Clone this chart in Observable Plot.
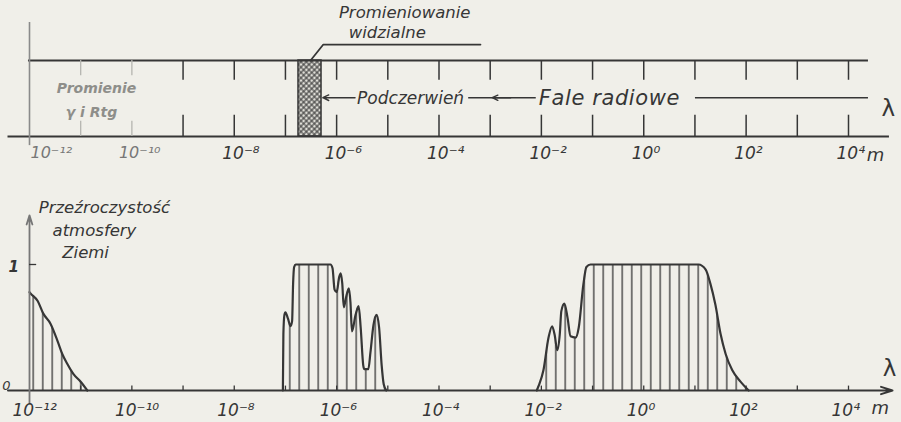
<!DOCTYPE html>
<html><head><meta charset="utf-8">
<script src="https://cdn.jsdelivr.net/npm/d3@7"></script>
<script src="https://cdn.jsdelivr.net/npm/@observablehq/plot@0.6"></script>
<style>
html,body{margin:0;padding:0;background:#f0efe9;}
#chart{width:901px;height:422px;overflow:hidden;}
svg{display:block;}
</style></head><body><div id="chart"></div>
<script>
// ---------- data (wavelengths as log10 of metres) ----------
const decadeTicks = [-11,-10,-9,-8,-7,-6,-5,-4,-3,-2,-1,0,1,2,3,4];
const tickExp    = [-12,-10,-8,-6,-4,-2,0,2,4];
const tickLabels = ["10⁻¹²","10⁻¹⁰","10⁻⁸","10⁻⁶","10⁻⁴","10⁻²","10⁰","10²","10⁴"];
const visibleBand = [-6.745, -6.295];           // "Promieniowanie widzialne"
const bandNames = ["Promieniowanie","widzialne","Podczerwień","Fale radiowe"];
const gammaNames = ["Promienie","γ i Rtg"];
const yTitle = ["Przeźroczystość","atmosfery","Ziemi"];

// atmospheric transparency windows
const gammaK = [-12, -11.98, -11.84, -11.73, -11.59, -11.45, -11.36, -11.26, -11.14, -11.0, -10.87];
const gammaT = [0.78, 0.77, 0.71, 0.61, 0.53, 0.39, 0.29, 0.21, 0.13, 0.07, 0];
const opticalK = [-7.05,-7.04,-7.02,-7.0,-6.95,-6.9,-6.87,-6.85,-6.83,-6.8,-6.12,-6.08,-6.04,-6.0,-5.95,-5.92,-5.89,-5.86,-5.81,-5.76,-5.73,-5.70,-5.63,-5.57,-5.53,-5.48,-5.46,-5.38,-5.34,-5.28,-5.22,-5.17,-5.12,-5.08,-5.03];
const opticalT = [0,0.45,0.6,0.62,0.57,0.51,0.55,0.85,0.98,1.0,1.0,0.97,0.8,0.78,0.9,0.93,0.85,0.66,0.75,0.81,0.7,0.47,0.6,0.67,0.5,0.2,0.17,0.17,0.3,0.52,0.6,0.5,0.2,0.05,0];
const radioK = [-2.09,-2.05,-1.96,-1.86,-1.79,-1.74,-1.69,-1.64,-1.61,-1.55,-1.49,-1.43,-1.33,-1.27,-1.18,-1.12,-1.04,1.07,1.21,1.30,1.40,1.50,1.60,1.73,1.89,2.05];
const radioT = [0,0.04,0.16,0.42,0.51,0.44,0.32,0.45,0.63,0.69,0.58,0.43,0.42,0.5,0.84,0.98,1.0,1.0,0.96,0.85,0.68,0.45,0.29,0.16,0.07,0];

// ---------- helpers ----------
const p = k => 10 ** k;
const ink = "#363636";
const FONT = "DejaVu Sans";
const X = {type: "log", domain: [1e-12, 1e4], range: [29, 848], axis: null};
const T = (txt, o) => Plot.text([txt], {text: d => d, fontFamily: FONT, fontStyle: "italic", fill: ink, ...o});

const windows = [
  ...gammaK.map((k, i) => ({w: "gamma", k, t: gammaT[i]})),
  ...opticalK.map((k, i) => ({w: "optical", k, t: opticalT[i]})),
  ...radioK.map((k, i) => ({w: "radio", k, t: radioT[i]}))
];

// ---------- top: spectrum ----------
const topPlot = Plot.plot({
  width: 901, height: 170, margin: 0,
  x: X,
  y: {domain: [0, 1], range: [136, 60], axis: null},
  style: {background: "transparent", overflow: "visible", fontFamily: FONT},
  marks: [
    Plot.rect([visibleBand], {x1: d => p(d[0]), x2: d => p(d[1]), y1: 0, y2: 1, fill: "url(#xhatch)", stroke: ink, strokeWidth: 1.5}),
    Plot.ruleY([1], {x1: p(-12.02), x2: p(4.39), stroke: ink, strokeWidth: 2}),
    Plot.ruleY([0], {x1: p(-12.42), x2: p(4.8), stroke: ink, strokeWidth: 2}),
    Plot.ruleX([p(-12)], {y1: -0.12, y2: 1.5, stroke: "#8a8a8a", strokeWidth: 1.6}),
    Plot.ruleX(decadeTicks, {filter: d => d >= -9, x: p, y1: 1, y2: 0.74, stroke: ink, strokeWidth: 1.5}),
    Plot.ruleX(decadeTicks, {filter: d => d >= -9, x: p, y1: 0, y2: 0.28, stroke: ink, strokeWidth: 1.5}),
    Plot.ruleX(decadeTicks, {filter: d => d < -9, x: p, y1: 1, y2: 0.8, stroke: "#b5b5b0", strokeWidth: 1.3}),
    Plot.ruleX(decadeTicks, {filter: d => d < -9, x: p, y1: 0, y2: 0.2, stroke: "#b5b5b0", strokeWidth: 1.3}),
    // leader line to "Promieniowanie widzialne"
    Plot.line([[-6.51, 1], [-6.26, 1.21], [-3.19, 1.21]], {x: d => p(d[0]), y: d => d[1], stroke: ink, strokeWidth: 1.8}),
    T(bandNames[0], {x: p(-4.67), y: 1.63, fontSize: 16.5}),
    T(bandNames[1], {x: p(-5.01), y: 1.36, fontSize: 16.5}),
    // Podczerwień
    Plot.arrow([0], {x1: p(-5.64), y1: 0.51, x2: p(-6.27), y2: 0.51, stroke: ink, strokeWidth: 1.4, headLength: 7, headAngle: 50}),
    T(bandNames[2], {x: p(-5.6), y: 0.5, fontSize: 17, textAnchor: "start"}),
    // Fale radiowe
    Plot.ruleY([0.51], {x1: p(-3.42), x2: p(-2.1), stroke: ink, strokeWidth: 1.4}),
    Plot.arrow([0], {x1: p(-2.6), y1: 0.51, x2: p(-2.96), y2: 0.51, stroke: ink, strokeWidth: 1.4, headLength: 7, headAngle: 50}),
    T(bandNames[3], {x: p(-2.05), y: 0.5, fontSize: 21, textAnchor: "start"}),
    Plot.ruleY([0.51], {x1: p(1.01), x2: p(4.39), stroke: ink, strokeWidth: 1.4}),
    // gamma / X
    T(gammaNames[0], {x: p(-10.69), y: 0.63, fontSize: 14, fontWeight: "bold", fill: "#8e8e8a"}),
    T(gammaNames[1], {x: p(-10.79), y: 0.31, fontSize: 14, fontWeight: "bold", fill: "#8e8e8a"}),
    // lambda and units
    Plot.text(["λ"], {text: d => d, x: p(4.78), y: 0.37, fontSize: 23, fill: ink, fontFamily: FONT}),
    T("m", {x: p(4.53), y: -0.24, fontSize: 18}),
    // tick labels
    Plot.text(tickExp, {filter: d => d === -12, x: p, y: -0.22, text: (d, i) => tickLabels[i], textAnchor: "start", dx: 1, fontSize: 16, fontStyle: "italic", fill: "#777", fontFamily: FONT}),
    Plot.text(tickExp, {filter: d => d === -10, x: p, y: -0.22, text: (d, i) => tickLabels[i], textAnchor: "start", dx: -13, fontSize: 16, fontStyle: "italic", fill: "#777", fontFamily: FONT}),
    Plot.text(tickExp, {filter: d => d > -10, x: p, y: -0.22, text: (d, i) => tickLabels[i], textAnchor: "start", dx: -12, fontSize: 17, fontStyle: "italic", fill: ink, fontFamily: FONT})
  ]
});

// ---------- bottom: transparency of atmosphere ----------
const botPlot = Plot.plot({
  width: 901, height: 252, margin: 0,
  x: X,
  y: {domain: [0, 1], range: [220, 94], axis: null},
  style: {background: "transparent", overflow: "visible", fontFamily: FONT},
  marks: [
    Plot.area(windows, {x1: d => p(d.k), y1: 0, y2: "t", z: "w", curve: "monotone-x", fill: "url(#vhatch)"}),
    Plot.line(windows, {x: d => p(d.k), y: "t", z: "w", curve: "monotone-x", stroke: ink, strokeWidth: 2.2}),
    Plot.ruleX(decadeTicks, {x: p, y1: 0, y2: 0.035, stroke: ink, strokeWidth: 1.3}),
    Plot.arrow([0], {x1: p(-12.42), y1: 0, x2: p(4.86), y2: 0, stroke: ink, strokeWidth: 2, headLength: 9, headAngle: 35}),
    Plot.arrow([0], {x1: p(-12), y1: -0.1, x2: p(-12), y2: 1.39, stroke: "#777", strokeWidth: 1.8, headLength: 8, headAngle: 35}),
    Plot.ruleY([1], {x1: p(-12), x2: p(-11.86), stroke: ink, strokeWidth: 1.3}),
    T("1", {x: p(-12.31), y: 0.98, fontSize: 15, fontWeight: "bold"}),
    T("0", {x: p(-12.45), y: 0.04, fontSize: 13}),
    T(yTitle[0], {x: p(-11.82), y: 1.45, fontSize: 16.5, textAnchor: "start"}),
    T(yTitle[1], {x: p(-11.55), y: 1.27, fontSize: 16.5, textAnchor: "start"}),
    T(yTitle[2], {x: p(-11.36), y: 1.09, fontSize: 16.5, textAnchor: "start"}),
    Plot.text(["λ"], {text: d => d, x: p(4.8), y: 0.17, fontSize: 23, fill: ink, fontFamily: FONT}),
    T("m", {x: p(4.62), y: -0.14, fontSize: 18}),
    Plot.text(tickExp, {x: p, y: -0.16, text: (d, i) => tickLabels[i], textAnchor: "start", dx: -17, fontSize: 17, fontStyle: "italic", fill: ink, fontFamily: FONT})
  ]
});

// ---------- patterns ----------
function addDefs(svg) {
  const defs = d3.select(svg).insert("defs", ":first-child");
  const xh = defs.append("pattern").attr("id", "xhatch").attr("patternUnits", "userSpaceOnUse")
    .attr("width", 3.8).attr("height", 3.8).attr("patternTransform", "rotate(45)");
  xh.append("rect").attr("width", 3.8).attr("height", 3.8).attr("fill", "#deddd6");
  xh.append("path").attr("d", "M0,1.9H3.8M1.9,0V3.8").attr("stroke", ink).attr("stroke-width", 1.05);
  const vh = defs.append("pattern").attr("id", "vhatch").attr("patternUnits", "userSpaceOnUse")
    .attr("width", 9.5).attr("height", 10);
  vh.append("path").attr("d", "M4.75,0V10").attr("stroke", "#444").attr("stroke-width", 1.4);
}
addDefs(topPlot);
addDefs(botPlot);
d3.select(topPlot).selectAll("text").filter(function(){ return this.textContent === "Fale radiowe"; }).attr("letter-spacing", 0.6);

const c = document.getElementById("chart");
c.append(topPlot);
c.append(botPlot);
</script></body></html>
